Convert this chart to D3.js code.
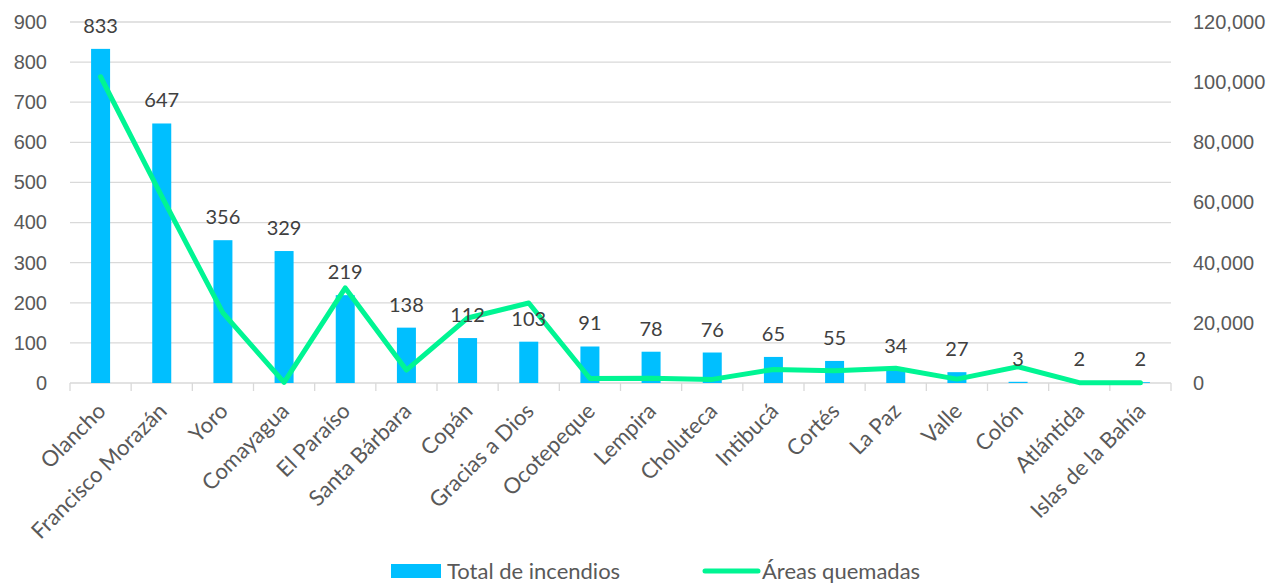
<!DOCTYPE html>
<html>
<head>
<meta charset="utf-8">
<script src="https://cdn.jsdelivr.net/npm/d3@7"></script>
<style>
  body { margin: 0; background: #fff; }
  svg { display: block; font-family: Lato, "Open Sans", sans-serif; }
</style>
</head>
<body>
<svg id="chart" width="1281" height="583"></svg>
<script>
// departments
const departamentos = ['Olancho', 'Francisco Morazán', 'Yoro', 'Comayagua', 'El Paraíso',
  'Santa Bárbara', 'Copán', 'Gracias a Dios', 'Ocotepeque', 'Lempira', 'Choluteca',
  'Intibucá', 'Cortés', 'La Paz', 'Valle', 'Colón', 'Atlántida', 'Islas de la Bahía'];
const totalIncendios = [833, 647, 356, 329, 219, 138, 112, 103, 91, 78, 76, 65, 55, 34, 27, 3, 2, 2];
// burned area
const areasQuemadas = [101800, 62000, 23300, 200, 31600, 4300, 21600, 26600, 1500, 1600,
  1200, 4500, 4100, 4900, 1300, 5400, 100, 100];
const leftTicks = [0, 100, 200, 300, 400, 500, 600, 700, 800, 900];
const rightTicks = [0, 20000, 40000, 60000, 80000, 100000, 120000];

const svg = d3.select('#chart'),
  plotL = 70, plotR = 1171, plotT = 22, plotB = 383,
  barColor = '#00BFFF', lineColor = '#00F593', textColor = '#595959';

const x = d3.scaleBand().domain(departamentos).range([plotL, plotR]);
const y = d3.scaleLinear().domain([0, 900]).range([plotB, plotT]);
const y2 = d3.scaleLinear().domain([0, 120000]).range([plotB, plotT]);
const cx = d => x(d) + x.bandwidth() / 2;

// gridlines
svg.append('g')
  .selectAll('line')
  .data(leftTicks.slice(1))
  .join('line')
  .attr('x1', plotL).attr('x2', plotR)
  .attr('y1', d => y(d)).attr('y2', d => y(d))
  .attr('stroke', '#d9d9d9').attr('stroke-width', 1.3);

// left axis labels
svg.append('g')
  .attr('transform', `translate(${plotL - 23},0)`)
  .call(d3.axisLeft(y).tickValues(leftTicks).tickSize(0).tickPadding(0))
  .call(g => g.select('.domain').remove())
  .selectAll('text')
  .attr('fill', textColor).attr('font-size', 20).attr('font-family', null);

// right axis labels
svg.append('g')
  .attr('transform', `translate(${plotR + 22},0)`)
  .call(d3.axisRight(y2).tickValues(rightTicks).tickSize(0).tickPadding(0)
    .tickFormat(d3.format(',')))
  .call(g => g.select('.domain').remove())
  .selectAll('text')
  .attr('fill', textColor).attr('font-size', 20).attr('font-family', null);

// category axis
const xAxis = svg.append('g').attr('transform', `translate(0,${plotB})`);
xAxis.append('line')
  .attr('x1', plotL).attr('x2', plotR)
  .attr('stroke', '#d9d9d9').attr('stroke-width', 1.3);
xAxis.selectAll('.tk')
  .data(departamentos.map(d => x(d)).concat([plotR]))
  .join('line')
  .attr('class', 'tk')
  .attr('x1', d => d).attr('x2', d => d)
  .attr('y1', 0).attr('y2', 8)
  .attr('stroke', '#d9d9d9').attr('stroke-width', 1.3);
xAxis.selectAll('.lbl')
  .data(departamentos)
  .join('text')
  .attr('class', 'lbl')
  .attr('transform', d => `translate(${cx(d) + 1},24) rotate(-45)`)
  .attr('text-anchor', 'end')
  .attr('dy', '0.35em')
  .attr('fill', textColor)
  .attr('font-size', 22)
  .text(d => d);

// bars
const barW = 19;
svg.append('g')
  .selectAll('rect')
  .data(departamentos)
  .join('rect')
  .attr('x', d => cx(d) - barW / 2)
  .attr('y', (d, i) => y(totalIncendios[i]))
  .attr('width', barW)
  .attr('height', (d, i) => plotB - y(totalIncendios[i]))
  .attr('fill', barColor);

// line
const line = d3.line()
  .x((d, i) => cx(departamentos[i]))
  .y(d => y2(d));
svg.append('path')
  .datum(areasQuemadas)
  .attr('d', line)
  .attr('fill', 'none')
  .attr('stroke', lineColor)
  .attr('stroke-width', 5)
  .attr('stroke-linejoin', 'round')
  .attr('stroke-linecap', 'round');

// data labels
svg.append('g')
  .selectAll('text')
  .data(departamentos)
  .join('text')
  .attr('x', cx)
  .attr('y', (d, i) => y(totalIncendios[i]) - 16)
  .attr('text-anchor', 'middle')
  .attr('fill', '#404040')
  .attr('font-size', 20)
  .text((d, i) => totalIncendios[i]);

// legend
const legend = svg.append('g');
legend.append('rect')
  .attr('x', 391).attr('y', 564).attr('width', 50).attr('height', 14)
  .attr('fill', barColor);
legend.append('text')
  .attr('x', 447).attr('y', 571).attr('dy', '0.35em')
  .attr('fill', textColor).attr('font-size', 22)
  .text('Total de incendios');
legend.append('line')
  .attr('x1', 705).attr('x2', 758).attr('y1', 571).attr('y2', 571)
  .attr('stroke', lineColor).attr('stroke-width', 5).attr('stroke-linecap', 'round');
legend.append('text')
  .attr('x', 762).attr('y', 571).attr('dy', '0.35em')
  .attr('fill', textColor).attr('font-size', 22)
  .text('Áreas quemadas');
</script>
</body>
</html>
